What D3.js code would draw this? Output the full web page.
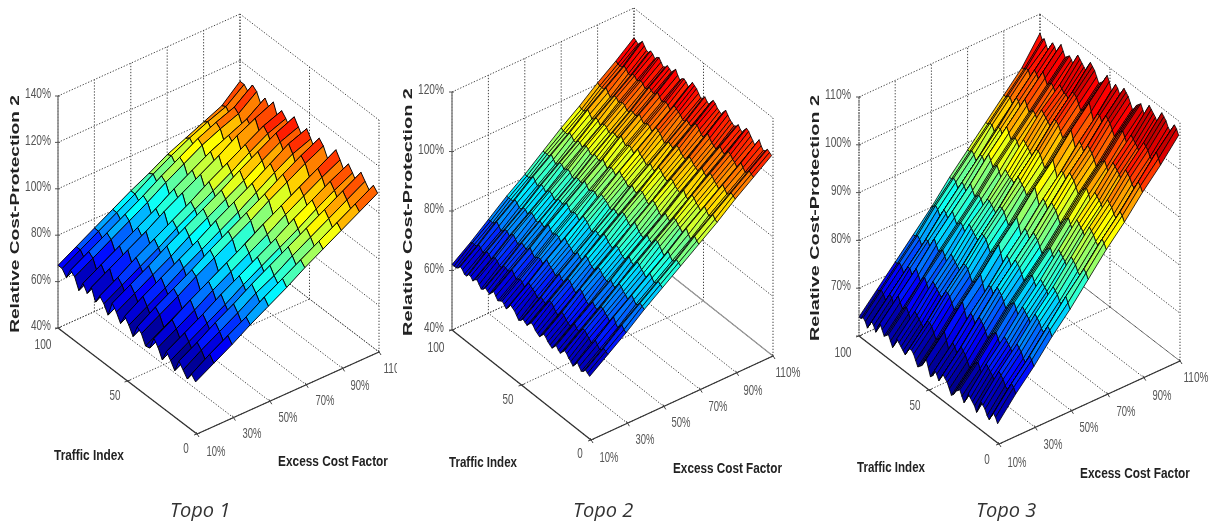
<!DOCTYPE html>
<html><head><meta charset="utf-8">
<script src="https://cdn.jsdelivr.net/npm/d3@7"></script>
<style>html,body{margin:0;padding:0;background:#fff}svg{display:block}</style>
</head><body><svg id="c" width="1216" height="521"></svg>
<script>
const trafficRows=[1,4,7,10,13,16,19,22,25,28,31,34,37,40,43,46,49,52,55,58,61,64,67,70,73,76,79,82,85,88,91,94,97,100];
const trafficRowsFine=[1,2.5,4,5.5,7,8.5,10,11.5,13,14.5,16,17.5,19,20.5,22,23.5,25,26.5,28,29.5,31,32.5,34,35.5,37,38.5,40,41.5,43,44.5,46,47.5,49,50.5,52,53.5,55,56.5,58,59.5,61,62.5,64,65.5,67,68.5,70,71.5,73,74.5,76,77.5,79,80.5,82,83.5,85,86.5,88,89.5,91,92.5,94,95.5,97,98.5,100];
const ecfCols=[10,20,30,40,50,60,70,80,90,100,110];
const ecfTicks=[10,30,50,70,90,110];
const trafficTicks=[0,50,100];
const topo1Ticks=[40,60,80,100,120,140];
const topo2Ticks=[40,60,80,100,120];
const topo3Ticks=[60,70,80,90,100,110];
const topo3TickLabels=['','70%','80%','90%','100%','110%'];
const topo1Z=[
[62,66.5,71,76,80.5,85,90,94.5,99,103.5,108],
[64,69,73.5,78,83,87.5,92,96.5,101,105.5,110],
[60.5,65,69.5,74,79,83.5,88,92.5,97,101.5,106.5],
[63,68,72.5,77,82,86,91,95.5,100,104.5,109],
[65.5,70,75,79.5,84.5,89,93.5,98,102.5,107,111.5],
[60,64.5,69,73.5,78,83,87.5,92,96.5,101,105.5],
[63,67.5,72,76.5,81.5,86,90.5,95,100,104.5,108.5],
[65.5,70,74.5,79.5,84,88.5,93,98,102.5,107,111],
[60.5,65.5,70,74.5,79,84,88.5,93,97.5,102,106.5],
[64.5,69,73.5,78.5,83,87.5,92,97,101.5,106,110],
[67,71.5,76.5,81,85.5,90,95,99.5,104,108.5,113],
[61.5,66,71,75.5,80,84.5,89.5,94,98.5,103,107],
[61,65.5,70,74.5,79,83.5,88.5,93,97.5,102,106.5],
[65,69.5,74,79,83.5,88,92.5,97.5,102,106.5,110.5],
[66.5,71.5,76,80.5,85.5,90,94.5,99,104,108.5,112.5],
[61,65.5,70,74.5,79,83.5,88,93,97.5,102,106],
[64.5,69,73.5,78.5,83,87.5,92,97,102,106.5,109.5],
[67,72,76.5,81,85.5,90.5,95,99.5,104.5,109.5,112.5],
[62.5,67,72,76.5,81,85.5,90,95,99.5,104,107.5],
[66,70.5,75,79.5,84.5,89,93.5,98,103,107.5,110.5],
[68.5,73,77.5,82.5,87,91.5,96,101,105.5,110,113.5],
[62,66.5,71.5,76,80.5,85,89.5,94.5,99,103.5,107],
[65.5,70,74.5,79,84,88.5,93,97.5,102.5,107,110],
[67.5,72,77,81.5,86,90.5,95.5,100,104.5,109,112],
[63.5,68.5,73,77.5,82,86.5,91.5,96,100.5,105,108],
[68.5,73,77.5,82,87,91.5,96,100.5,105.5,109.5,113],
[64.5,69,73.5,78.5,83,87.5,92,96.5,101,104.5,109],
[67.5,72,76.5,81,85.5,90.5,95,99.5,103,106.5,112],
[63,67.5,72.5,77,81.5,86,90.5,95,98.5,102,108],
[67.5,72,76.5,81,85.5,90.5,95,99.5,103,106,112],
[69,73.5,78,82.5,87,92,96.5,101,104.5,107.5,113.5],
[64.5,69,74,78.5,83,87.5,92,96.5,99.5,102.5,109],
[67,71.5,76,80.5,85,90,94.5,98.5,102,105,111],
[67,71.5,76,80.5,85,89,93.5,97,100.5,104,111]];
const topo2Z=[
[61,65.5,70,75,79.5,84,88.5,93,98,102.5,107],
[61.5,66,70.5,75.5,80,84.5,89,93.5,98.5,103,107.5],
[62,66.5,71.5,76,80.5,85,90,94.5,99,103.5,108],
[61,65.5,70.5,75,79.5,84,89,93.5,98,102.5,107],
[60.5,65,69.5,74.5,79,83.5,88,93,97.5,102,106.5],
[61.5,66,70.5,75.5,80,84.5,89,94,98.5,103,107.5],
[62.5,67,72,76.5,81,85.5,90.5,95,99.5,104,109],
[61,65.5,70.5,75,79.5,84,89,93.5,98,102.5,107.5],
[60,65,69.5,74,78.5,83,88,92.5,97,101.5,106],
[61,66,70.5,75,79.5,84,89,93.5,98,102.5,107],
[61.5,66.5,71,75.5,80,85,89.5,94,98.5,103,108],
[62.5,67.5,72,76.5,81,86,90.5,95,99.5,104,109],
[63,67.5,72,77,81.5,86,90.5,95.5,100,104.5,109.5],
[62,66.5,71,76,80.5,85,89.5,94.5,99,103.5,108.5],
[61,65.5,70,74.5,79.5,84,88.5,93,98,102.5,107],
[61.5,66,70.5,75,80,84.5,89,93.5,98.5,103,107.5],
[62.5,67,71.5,76,81,85.5,90,95,99.5,104,108.5],
[61.5,66,70.5,75,80,84.5,89,94,98.5,103,107.5],
[60.5,65,69.5,74.5,79,83.5,88,93,97.5,102,107],
[61,65.5,70,75,79.5,84,88.5,93.5,98,102.5,107.5],
[61.5,66,71,75.5,80,84.5,89.5,94,98.5,103,108],
[62.5,67,72,76.5,81,85.5,90.5,95,99.5,104,109],
[63,67.5,72.5,77,81.5,86.5,91,95.5,100,105,110],
[62,66.5,71.5,76,80.5,85.5,90,94.5,99,104,109],
[61,65.5,70,75,79.5,84,88.5,93.5,98,102.5,107.5],
[61.5,66,70.5,75.5,80,84.5,89,94,98.5,103,108],
[62,67,71.5,76,80.5,85.5,90,94.5,99,104,108.5],
[63,68,72.5,77,81.5,86.5,91,95.5,100,105,109.5],
[63.5,68,72.5,77.5,82,86.5,91,96,100.5,105,110],
[62.5,67,71.5,76.5,81,85.5,90,95,99.5,104,109],
[61.5,66,70.5,75,80,84.5,89,93.5,98.5,103,107.5],
[62,66.5,71,75.5,80.5,85,89.5,94,99,103.5,108],
[62.5,67,72,76.5,81,85.5,90.5,95,99.5,104,109],
[61.5,66,71,75.5,80,84.5,89.5,94,98.5,103,108],
[61,66,70.5,75,79.5,84.5,89,93.5,98,103,107.5],
[62,67,71.5,76,80.5,85.5,90,94.5,99,104,108.5],
[63,67.5,72,76.5,81.5,86,90.5,95,100,104.5,109.5],
[63.5,68,72.5,77,82,86.5,91,95.5,100.5,105,110],
[64,68.5,73.5,78,82.5,87,92,96.5,101,105.5,110.5],
[62.5,67,72,76.5,81,85.5,90.5,95,99.5,104,109],
[61.5,66,71,75.5,80,85,89.5,94,98.5,103,108],
[62.5,67,72,76.5,81,86,90.5,95,99.5,104,109],
[63,67.5,72,77,81.5,86,91,95.5,100,104.5,109.5],
[62.5,67,71.5,76.5,81,85.5,90.5,95,99.5,104,109],
[62,66.5,71,76,80.5,85,89.5,94.5,99,103.5,108],
[63,67.5,72,77,81.5,86,90.5,95.5,100,104.5,109],
[64,68.5,73,78,82.5,87,91.5,96.5,101,105.5,110.5],
[63,67.5,72,77,81.5,86,90.5,95.5,100,104.5,109.5],
[62,67,71.5,76,81,85.5,90,95,99.5,104,108.5],
[62.5,67.5,72,76.5,81.5,86,90.5,95.5,100,104.5,109],
[63,67.5,72.5,77,81.5,86,91,95.5,100,105,109.5],
[62,66.5,71.5,76,80.5,85,90,94.5,99,104,108.5],
[61.5,66.5,71,76,80.5,85,90,94.5,99,103.5,108],
[62.5,67.5,72,77,81.5,86,91,95.5,100,104.5,109],
[63.5,68,73,77.5,82,86.5,91.5,96,100.5,105,110],
[63,67.5,72.5,77,81.5,86,91,95.5,100,104.5,109.5],
[62,66.5,71.5,76,80.5,85.5,90,94.5,99.5,104,108.5],
[63,67.5,72.5,77,81.5,86.5,91,95.5,100.5,105,109.5],
[63,68,72.5,77,82,86.5,91,96,100.5,105,110],
[62,67,71.5,76,81,85.5,90,95,99.5,104,109],
[62,66.5,71,76,80.5,85,90,94.5,99,104,109],
[63,67.5,72,77,81.5,86,91,95.5,100,105,110],
[63.5,68,73,77.5,82.5,87,91.5,96.5,101,105.5,111],
[62.5,67,72,76.5,81.5,86,90.5,95.5,100,104.5,110],
[62,67,71.5,76.5,81,86,90.5,95,100,104.5,109],
[62,67,71.5,76.5,81,86,90.5,95,100,104.5,109.5],
[62,66.5,71.5,76.5,81,86,91,95.5,100.5,105,110]];
const topo3Z=[
[64,68.5,72.5,77,81,85.5,90,94,98.5,102.5,107],
[65,69.5,73.5,78,82,86.5,91,95,99.5,103.5,108],
[65.5,70,74,78.5,83,87,91.5,95.5,100,104.5,108.5],
[64.5,69,73,77.5,82,86,90.5,94.5,99,103.5,107.5],
[63.5,68,72,76.5,80.5,85,89.5,93.5,98,102,106.5],
[64,68.5,72.5,77,81,85.5,90,94,98.5,102.5,107],
[65,69.5,73.5,78,82,86.5,91,95,99.5,103.5,108],
[65.5,70,74,78.5,82.5,87,91.5,95.5,100,104,108.5],
[66,70.5,74.5,79,83,87.5,92,96,100.5,104.5,109],
[64.5,69,73,77.5,81.5,86,90.5,94.5,99,103,107.5],
[63,67.5,71.5,76,80,84.5,89,93,97.5,101.5,106],
[64,68.5,72.5,77,81,85.5,90,94,98.5,102.5,107],
[64.5,69,73,77.5,81.5,86,90.5,94.5,99,103,107.5],
[65,69.5,73.5,78,82,86.5,91,95,99.5,103.5,108],
[65.5,70,74,78.5,82.5,87,91.5,95.5,100,104,108.5],
[64,68.5,72.5,77,81,85.5,90,94,98.5,102.5,107],
[63,67,71.5,76,80,84,88.5,93,97,101.5,105.5],
[64,68,72.5,77,81,85,89.5,94,98,102.5,106.5],
[65,69,73.5,78,82,86,90.5,95,99,103.5,107.5],
[64.5,68.5,73,77.5,81.5,85.5,90,94.5,98.5,103,107],
[64,68,72.5,77,81,85,89.5,94,98,102.5,106.5],
[63,67,71.5,76,80,84,88.5,93,97,101.5,105.5],
[62.5,66.5,71,75.5,79.5,83.5,88,92.5,96.5,101,105],
[63.5,67.5,72,76.5,80.5,84.5,89,93.5,97.5,102,106],
[64.5,68.5,73,77.5,81.5,85.5,90,94.5,98.5,103,107],
[65,69,73.5,78,82,86,90.5,95,99,103.5,107.5],
[65.5,69.5,74,78.5,82.5,86.5,91,95.5,99.5,104,108],
[64.5,68.5,73,77.5,81.5,85.5,90,94.5,98.5,103,107],
[63.5,67.5,72,76.5,80.5,84.5,89,93.5,97.5,102,106],
[64.5,68.5,73,77.5,81.5,85.5,90,94.5,98.5,103,107],
[65,69,73.5,77.5,82,86,90.5,94.5,99,103,107.5],
[63.5,67.5,72,76,80.5,84.5,89,93,97.5,101.5,106],
[63,67,71.5,75.5,80,84,88.5,92.5,97,101,105.5],
[64.5,68.5,73,77,81.5,85.5,90,94,98.5,102.5,107],
[66,70,74.5,78.5,83,87,91.5,95.5,100,104,108],
[65,69,73.5,77.5,82,86,90.5,94.5,99,103,107],
[64,68,72.5,76.5,81,85,89.5,93.5,98,102,106],
[63.5,67.5,72,76,80.5,84.5,89,93,97.5,101.5,105.5],
[63,67,71.5,75.5,80,84,88.5,92.5,97,101,105],
[64,68,72.5,76.5,81,85,89.5,93.5,98,102,106],
[65,69,73.5,77.5,82,86,90,94.5,99,103,107],
[65.5,69.5,74,78,82.5,86.5,90.5,95,99.5,103.5,107.5],
[65.5,69.5,74,78,82.5,86.5,91,95,99.5,103.5,108],
[64.5,68.5,73,77,81.5,85.5,90,94,98.5,102.5,107],
[63.5,67.5,72,76,80.5,84.5,89,93,97.5,101.5,105.5],
[64,68,72.5,76.5,81,85,89.5,93.5,98,102,106],
[64.5,68.5,73,77,81.5,85.5,89.5,94,98.5,102,106.5],
[65,69,73.5,77.5,82,86,90,94.5,99,102.5,107],
[65.5,69.5,74,78,82.5,86,90.5,95,99.5,103,107.5],
[64,68,72.5,76.5,81,84.5,89,93.5,98,101.5,106],
[63,67,71.5,75.5,80,84,88,92.5,96.5,100.5,104.5],
[64,68,72.5,76.5,81,85,89,93.5,97.5,101.5,105.5],
[65,69,73.5,77.5,81.5,85.5,90,94,98,102,106],
[64.5,68.5,73,77,81,85,89.5,93.5,97.5,101.5,105.5],
[64,68,72,76.5,80.5,84.5,89,93,97,101,105],
[65,69,73,77.5,81.5,85.5,90,94,98,102,106],
[66,70,74,78.5,82.5,86.5,91,95,99,103,107],
[65,69,73,77.5,81.5,85.5,90,94,98,102,106],
[63.5,67.5,72,76,80,84,88.5,92.5,96.5,100.5,104.5],
[64.5,68.5,73,77,81,85,89.5,93.5,97.5,101.5,105.5],
[65,69,73,77,81.5,85.5,89.5,93.5,98,102,106],
[64,68,72,76,80.5,84.5,88.5,92.5,97,101,105],
[63,67,71,75,79.5,83.5,87.5,92,96,100,103.5],
[64,68,72,76,80.5,84.5,88.5,93,97,101,104.5],
[64.5,68.5,72.5,76.5,81,85,89,93,97,101,105.5],
[64,68,72,76,80.5,84.5,88.5,92.5,96.5,100.5,105],
[64,68,72,76,80,84.5,88.5,92.5,96.5,100.5,106]];

const jet=d3.scaleLinear().domain([0,.125,.375,.625,.875,1])
  .range(['#00008f','#0000ff','#00ffff','#ffff00','#ff0000','#800000']).clamp(true);

const panels=[
 {name:'Topo 1',Z:topo1Z,rows:trafficRows,zTicks:topo1Ticks,zDom:[40,140],cDom:[60,116],sw:.95,
  L:[58,328],F:[197,434],R:[379,352],H:232,axisDash:null,wallSolid:false,
  zLabX:51,trLab:[[186,448],[115,395],[43,344]],ecfLab:[[216,451],[252,433],[288,417],[325,400],[360,385],[396,368]],
  trTitle:[54,124,455],exTitle:[278,388,461],yTitle:[14,95,333],cap:[170,509],clipX:397},
 {name:'Topo 2',Z:topo2Z,rows:trafficRowsFine,zTicks:topo2Ticks,zDom:[40,120],cDom:[57.7,111.4],sw:.8,
  L:[452,330],F:[591,440],R:[773,356],H:238,axisDash:null,wallSolid:true,
  zLabX:444,trLab:[[580,453],[508,399],[436,347]],ecfLab:[[609,457],[645,439],[681,422],[718,406],[753,390],[788,372]],
  trTitle:[449,517,462],exTitle:[673,782,468],yTitle:[408,88,336],cap:[573,509]},
 {name:'Topo 3',Z:topo3Z,rows:trafficRowsFine,zTicks:topo3Ticks,zLabels:topo3TickLabels,zDom:[60,110],cDom:[62.5,106.5],sw:.8,
  L:[859,336],F:[999,444],R:[1180,361],H:239,axisDash:'1.5 1',wallSolid:false,
  zLabX:851,trLab:[[987,459],[915,405],[843,352]],ecfLab:[[1017,462],[1053,444],[1089,427],[1126,411],[1162,395],[1196,377]],
  trTitle:[857,925,467],exTitle:[1080,1190,473],yTitle:[815,95,341],cap:[976,509]}
];

const svg=d3.select('#c');
const defs=svg.append('defs');
defs.append('filter').attr('id','soft').attr('filterUnits','userSpaceOnUse')
  .attr('x',0).attr('y',0).attr('width',1216).attr('height',521)
  .append('feGaussianBlur').attr('stdDeviation',0.5);
defs.append('clipPath').attr('id','clip397').append('rect').attr('x',-20).attr('y',-20).attr('width',39).attr('height',40);
const root=svg.append('g').attr('filter','url(#soft)');

const trafficFrac=d3.scaleLinear().domain([0,100]).range([0,1]);
const ecfFrac=d3.scaleLinear().domain([10,110]).range([0,1]);

// text squeezed horizontally to the width seen in the reference
function label(g,txt,x,y,w,opts={}){
  const t=g.append('text').text(txt)
   .attr('font-family',opts.family||'"Liberation Sans",Arial,sans-serif')
   .attr('font-size',opts.size||15).attr('fill',opts.fill||'#555')
   .attr('font-weight',opts.weight||'normal').attr('font-style',opts.style||'normal')
   .attr('text-anchor',opts.anchor||'middle').attr('dominant-baseline','central');
  const k=w?w/t.node().getComputedTextLength():1;
  const rot=opts.rotate?` rotate(${opts.rotate})`:'';
  t.attr('transform',`translate(${x},${y})${rot} scale(${k},1)`);
  return t;
}

panels.forEach(p=>{
  const g=root.append('g');
  const zPx=d3.scaleLinear().domain(p.zDom).range([0,p.H]);
  const color=d3.scaleLinear().domain(p.cDom).range([0,1]).clamp(true);
  const ux=[p.L[0]-p.F[0],p.L[1]-p.F[1]], vx=[p.R[0]-p.F[0],p.R[1]-p.F[1]];
  const proj=(t,e,z)=>{const a=trafficFrac(t),b=ecfFrac(e);
    return [p.F[0]+ux[0]*a+vx[0]*b, p.F[1]+ux[1]*a+vx[1]*b-zPx(z)];};
  const [z0,z1]=p.zDom;
  const line=(a,b,col,w,dash)=>g.append('line').attr('x1',a[0]).attr('y1',a[1]).attr('x2',b[0]).attr('y2',b[1])
      .attr('stroke',col).attr('stroke-width',w).attr('stroke-dasharray',dash||null);
  const dot='1.3 1.7', dc='#444';
  p.zTicks.forEach(z=>{ line(proj(100,10,z),proj(100,110,z),dc,1,dot); line(proj(100,110,z),proj(0,110,z),dc,1,dot); });
  ecfTicks.forEach(e=>{ line(proj(100,e,z0),proj(100,e,z1),dc,1,dot); line(proj(0,e,z0),proj(100,e,z0),dc,1,dot); });
  trafficTicks.forEach(t=>{ line(proj(t,10,z0),proj(t,110,z0),dc,1,dot); line(proj(t,110,z0),proj(t,110,z1),dc,1,dot); });
  if(p.wallSolid) line(proj(0,110,z0),proj(100,110,z0),'#999',1.2);
  line(proj(100,10,z0),proj(100,10,z1),p.axisDash?'#666':'#8c8c8c',p.axisDash?1.2:1.6,p.axisDash);
  line(proj(0,10,z0),proj(100,10,z0),'#333',1.3);
  line(proj(0,10,z0),proj(0,110,z0),'#333',1.3);
  p.zTicks.forEach(z=>{const a=proj(100,10,z); line([a[0]-3,a[1]],[a[0]+2,a[1]],'#555',1);});
  ecfTicks.forEach(e=>{const a=proj(0,e,z0); line([a[0]-1,a[1]-2],[a[0]+2,a[1]+3],'#444',1);});
  trafficTicks.forEach(t=>{const a=proj(t,10,z0); line([a[0]-3,a[1]+1],[a[0]+3,a[1]-1],'#444',1);});
  const cells=g.append('g');
  for(let i=p.rows.length-2;i>=0;i--){
    for(let j=ecfCols.length-2;j>=0;j--){
      const pts=[[i,j],[i+1,j],[i+1,j+1],[i,j+1]].map(([a,b])=>proj(p.rows[a],ecfCols[b],p.Z[a][b]));
      cells.append('path').attr('d','M'+pts.join('L')+'Z')
        .attr('fill',jet(color(p.Z[i][j]))).attr('stroke','#000').attr('stroke-width',p.sw)
        .attr('stroke-linejoin','round');
    }
  }
  p.zTicks.forEach((z,k)=>{const a=proj(100,10,z);
    const txt=p.zLabels?p.zLabels[k]:z+'%';
    if(txt) label(g,txt,p.zLabX,a[1]-3,z>=100?26:20,{anchor:'end'});});
  trafficTicks.forEach((t,i)=>{const c=p.trLab[i];
    label(g,String(t),c[0],c[1],t===100?17:(t===50?11:5.5));});
  ecfTicks.forEach((e,i)=>{const c=p.ecfLab[i];
    const holder=(p.clipX&&e===110)?g.append('g').attr('clip-path','url(#clip397)').attr('transform',`translate(${c[0]-18},${c[1]})`):null;
    if(holder) label(holder,e+'%',18,0,25);
    else label(g,e+'%',c[0],c[1],e>=100?25:19);});
  const tt=p.trTitle; label(g,'Traffic Index',(tt[0]+tt[1])/2,tt[2],tt[1]-tt[0],{weight:'bold',fill:'#222'});
  const et=p.exTitle; label(g,'Excess Cost Factor',(et[0]+et[1])/2,et[2],et[1]-et[0],{weight:'bold',fill:'#222'});
  const yt=p.yTitle; const cy=(yt[1]+yt[2])/2;
  label(g,'Relative Cost-Protection 2',yt[0],cy,yt[2]-yt[1],{weight:'bold',fill:'#222',size:13,rotate:-90});
  const ct=p.cap;
  label(g,p.name,ct[0],ct[1],null,{size:20,fill:'#333',anchor:'start',style:'italic',family:'"Open Sans","Noto Sans",sans-serif'});
});
</script></body></html>
